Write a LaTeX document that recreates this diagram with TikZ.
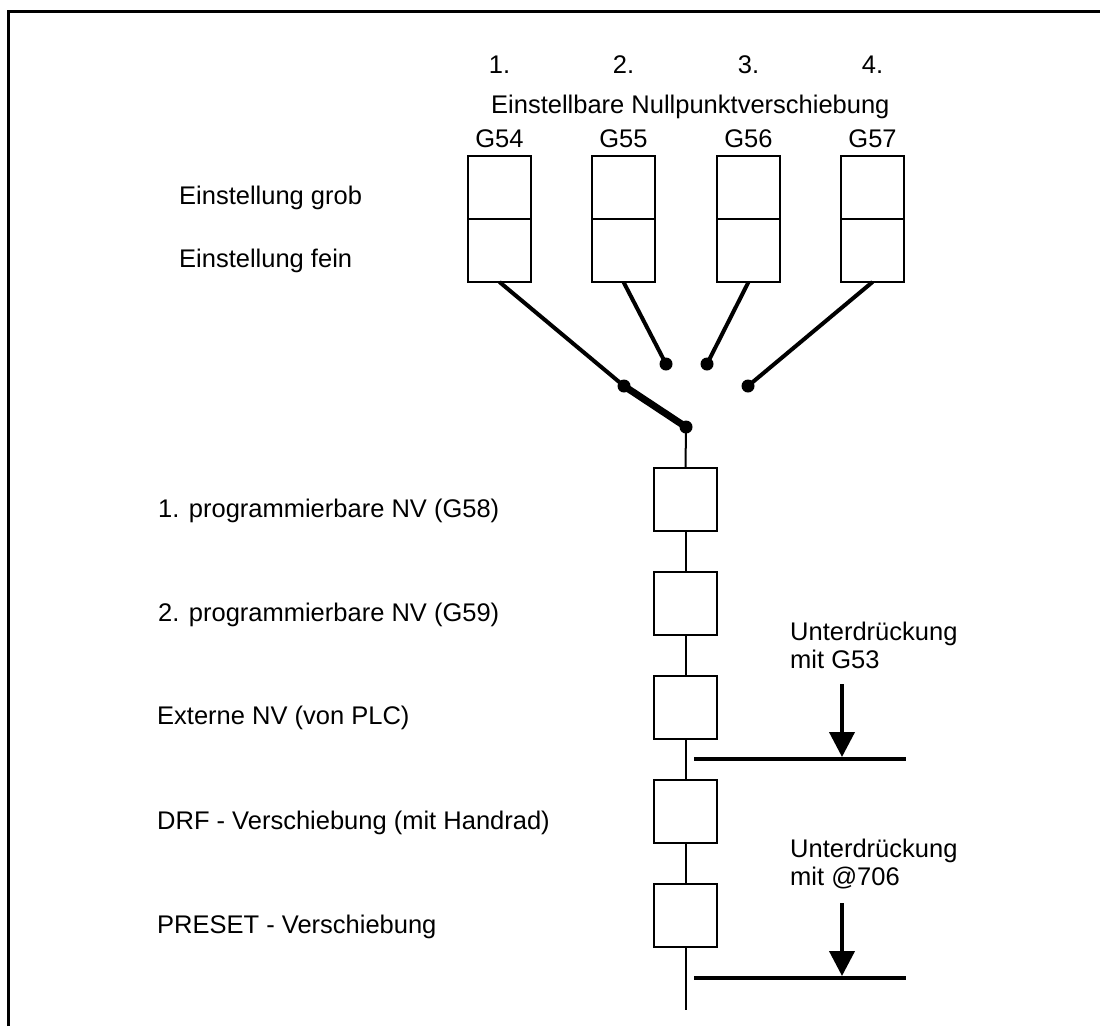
\documentclass[tikz,border=0pt]{standalone}
\usepackage{fontspec}
\setmainfont{Liberation Sans}
\usetikzlibrary{arrows.meta}
\begin{document}
\begin{tikzpicture}[x=1pt,y=-1pt,
  cell/.style={draw,line width=2pt,minimum width=63pt,minimum height=63pt,inner sep=0pt,outer sep=0pt},
  lbl/.style={inner sep=0pt,font=\fontsize{25.5}{30}\selectfont},
  contact/.style={circle,fill,inner sep=0pt,minimum size=13pt},
  feed/.style={line width=4pt},
  switchbar/.style={line width=7pt},
  chain/.style={line width=2pt},
  bar/.style={line width=4.5pt},
  suppress/.style={line width=4pt,-{Triangle[length=25pt,width=25pt]}}]
\useasboundingbox (0,0) rectangle (1100,1026);
% outer frame
\coordinate (fa) at (8,1026);
\coordinate (fb) at (8,11);
\coordinate (fc) at (1100,11);
\draw[line width=3pt] (fa) -- (fb) -- (fc);

% header texts
\node[lbl,anchor=base] (n1) at (499.5,73) {1.};
\node[lbl,anchor=base] (n2) at (623.5,73) {2.};
\node[lbl,anchor=base] (n3) at (748.5,73) {3.};
\node[lbl,anchor=base] (n4) at (872.5,73) {4.};
\node[lbl,anchor=base west] (head) at (491,113) {Einstellbare Nullpunktverschiebung};
\node[lbl,anchor=base] (t54) at (499.5,147) {G54};
\node[lbl,anchor=base] (t55) at (623.5,147) {G55};
\node[lbl,anchor=base] (t56) at (748.5,147) {G56};
\node[lbl,anchor=base] (t57) at (872.5,147) {G57};
\node[lbl,anchor=base west] (grob) at (179,204) {Einstellung grob};
\node[lbl,anchor=base west] (fein) at (179,267) {Einstellung fein};

% settable offsets: coarse and fine registers
\foreach \n/\x in {54/499.5,55/623.5,56/748.5,57/872.5}{
  \node[cell] (g\n a) at (\x,187.5) {};
  \node[cell] (g\n b) at (\x,250.5) {};
}

% selector switch
\node[contact] (c1) at (624,386) {};
\node[contact] (c2) at (666,364) {};
\node[contact] (c3) at (707,364) {};
\node[contact] (c4) at (748,386) {};
\node[contact] (piv) at (686,427) {};
\draw[feed] (g54b.south) -- (c1.center);
\draw[feed] (g55b.south) -- (c2.center);
\draw[feed] (g56b.south) -- (c3.center);
\draw[feed] (g57b.south) -- (c4.center);
\draw[switchbar] (c1.center) -- (piv.center);

% chain of further offsets
\node[cell] (b1) at (685.5,499.5) {};
\node[cell] (b2) at (685.5,603.5) {};
\node[cell] (b3) at (685.5,707.5) {};
\node[cell] (b4) at (685.5,811.5) {};
\node[cell] (b5) at (685.5,915.5) {};
\coordinate (tail) at (685.5,1010);
\draw[chain] (piv.center) -- (b1.north);
\draw[chain] (b1.south) -- (b2.north);
\draw[chain] (b2.south) -- (b3.north);
\draw[chain] (b3.south) -- (b4.north);
\draw[chain] (b4.south) -- (b5.north);
\draw[chain] (b5.south) -- (tail);

\node[lbl,anchor=base west] (l1) at (158,517) {1. programmierbare NV (G58)};
\node[lbl,anchor=base west] (l2) at (158,621) {2. programmierbare NV (G59)};
\node[lbl,anchor=base west] (l3) at (157,724) {Externe NV (von PLC)};
\node[lbl,anchor=base west] (l4) at (157,829) {DRF - Verschiebung (mit Handrad)};
\node[lbl,anchor=base west] (l5) at (157,933) {PRESET - Verschiebung};

% suppression with G53
\node[lbl,anchor=base west,align=left] (s1a) at (790,640) {Unterdrückung};
\node[lbl,anchor=base west] (s1b) at (790,668) {mit G53};
\coordinate (s1l) at (694,759);
\coordinate (s1r) at (906,759);
\coordinate (s1s) at (842,684);
\coordinate (s1t) at (842,757);
\draw[bar] (s1l) -- (s1r);
\draw[suppress] (s1s) -- (s1t);

% suppression with @706
\node[lbl,anchor=base west] (s2a) at (790,857) {Unterdrückung};
\node[lbl,anchor=base west] (s2b) at (790,885) {mit @706};
\coordinate (s2l) at (694,978);
\coordinate (s2r) at (906,978);
\coordinate (s2s) at (842,903);
\coordinate (s2t) at (842,976);
\draw[bar] (s2l) -- (s2r);
\draw[suppress] (s2s) -- (s2t);
\end{tikzpicture}
\end{document}
